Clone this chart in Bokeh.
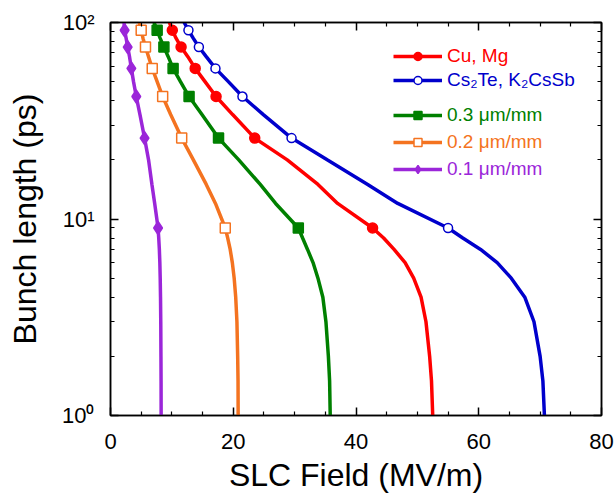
from bokeh.plotting import figure
from bokeh.models import FixedTicker, LinearAxis, LogAxis, Legend, LegendItem
from bokeh.embed import file_html
from bokeh.resources import INLINE

# ---------------- data ----------------
bunch_length = [1, 1.5, 2, 3, 4, 5, 6, 7, 8, 9, 12, 15, 20, 25.8, 34, 42, 50, 58.4, 67, 75, 83, 91.3, 100]

field_cu_mg = [52.5, 52.3, 52.0, 51.4, 50.6, 49.4, 48.0, 46.2, 44.5, 42.7, 37.0, 33.8, 28.8, 23.5, 19.9, 17.2, 15.4, 13.8, 12.6, 11.5, 10.7, 10.07, 9.6]
field_cs2te = [70.7, 70.45, 70.0, 69.0, 67.5, 65.3, 63.0, 60.3, 57.4, 55.0, 46.8, 41.9, 35.3, 29.5, 24.9, 21.5, 19.2, 17.1, 15.6, 14.4, 13.5, 12.7, 12.0]
field_03 = [35.8, 35.7, 35.5, 35.1, 34.6, 33.8, 33.0, 32.1, 31.3, 30.6, 26.9, 24.4, 20.9, 17.6, 14.9, 12.8, 11.4, 10.2, 9.4, 8.7, 8.1, 7.6, 7.1]
field_02 = [20.8, 20.78, 20.72, 20.6, 20.4, 20.15, 19.85, 19.5, 19.1, 18.7, 17.1, 15.6, 13.5, 11.6, 9.8, 8.5, 7.6, 6.8, 6.2, 5.7, 5.3, 5.0, 4.7]
field_01 = [8.25, 8.24, 8.22, 8.19, 8.15, 8.1, 8.04, 7.96, 7.86, 7.75, 7.2, 6.75, 6.2, 5.55, 4.8, 4.2, 3.75, 3.4, 3.1, 2.8, 2.55, 2.3, 2.2]

marker_index = [9, 13, 15, 17, 19, 21]

labels = ["Cu, Mg", "Cs\u2082Te, K\u2082CsSb", "0.3 \u03bcm/mm", "0.2 \u03bcm/mm", "0.1 \u03bcm/mm"]

x_major = [0, 20, 40, 60, 80]
x_minor = [5, 10, 15, 25, 30, 35, 45, 50, 55, 65, 70, 75]
y_major = [1, 10, 100]
y_minor = [2, 3, 4, 5, 6, 7, 8, 9, 20, 30, 40, 50, 60, 70, 80, 90]
y_tick_labels = {1: "10\u2070", 10: "10\u00b9", 100: "10\u00b2"}

# ---------------- styles ----------------
styles = [
    dict(field=field_cu_mg, color="#FF0000", marker="circle", size=10, fill="#FF0000", row=57),
    dict(field=field_cs2te, color="#0000CC", marker="circle", size=9, fill="white", row=81),
    dict(field=field_03, color="#008000", marker="square", size=10, fill="#008000", row=116),
    dict(field=field_02, color="#F47320", marker="square", size=10, fill="white", row=143),
    dict(field=field_01, color="#9B26D9", marker="diamond", size=13, fill="#9B26D9", row=170),
]

FONT = "Liberation Sans"
FRAME_LEFT, FRAME_TOP, FRAME_BOTTOM = 110, 22, 415

p = figure(width=614, height=495, x_range=(0, 80), y_range=(1, 100),
           y_axis_type="log", output_backend="svg", toolbar_location=None,
           min_border_left=FRAME_LEFT, min_border_right=13,
           min_border_top=FRAME_TOP, min_border_bottom=495 - FRAME_BOTTOM)
p.grid.visible = False
p.outline_line_color = "black"
p.outline_line_width = 1.5
p.background_fill_color = "white"
p.border_fill_color = "white"


def style_axis(ax):
    ax.axis_line_color = "black"
    ax.axis_line_width = 1.5
    ax.major_tick_line_color = "black"
    ax.minor_tick_line_color = "black"
    ax.major_tick_line_width = 1.5
    ax.minor_tick_line_width = 1.2
    ax.major_tick_in = 8
    ax.major_tick_out = 0
    ax.minor_tick_in = 4
    ax.minor_tick_out = 0
    ax.major_label_text_font = FONT
    ax.major_label_text_color = "black"
    ax.axis_label_text_font = FONT
    ax.axis_label_text_font_style = "normal"
    ax.axis_label_text_color = "black"


xa = p.xaxis[0]
xa.ticker = FixedTicker(ticks=x_major, minor_ticks=x_minor)
style_axis(xa)
xa.major_label_text_font_size = "22px"
xa.major_label_standoff = 18
xa.axis_label = "SLC Field (MV/m)"
xa.axis_label_text_font_size = "32px"
xa.axis_label_standoff = 5

ya = p.yaxis[0]
ya.ticker = FixedTicker(ticks=y_major, minor_ticks=y_minor)
ya.major_label_overrides = y_tick_labels
style_axis(ya)
ya.major_label_text_font_size = "22px"
ya.major_label_standoff = 16
ya.axis_label = "Bunch length (ps)"
ya.axis_label_text_font_size = "32px"
ya.axis_label_standoff = 16

top = LinearAxis(ticker=FixedTicker(ticks=x_major, minor_ticks=x_minor),
                 major_label_overrides={v: "" for v in x_major})
style_axis(top)
top.major_label_standoff = 0
top.major_label_text_font_size = "1px"
p.add_layout(top, "above")

right = LogAxis(ticker=FixedTicker(ticks=y_major, minor_ticks=y_minor),
                major_label_overrides={v: "" for v in y_major})
style_axis(right)
right.major_label_standoff = 0
right.major_label_text_font_size = "1px"
p.add_layout(right, "right")

for s, lab in zip(styles, labels):
    ln = p.line(s["field"], bunch_length, line_color=s["color"], line_width=3.5)
    mx = [s["field"][i] for i in marker_index]
    my = [bunch_length[i] for i in marker_index]
    sc = p.scatter(mx, my, marker=s["marker"], size=s["size"],
                   fill_color=s["fill"], line_color=s["color"], line_width=1.5)
    leg = Legend(items=[LegendItem(label=lab, renderers=[ln, sc])],
                 location=(393 - FRAME_LEFT, FRAME_BOTTOM - (s["row"] + 10)),
                 label_text_color=s["color"], label_text_font=FONT,
                 label_text_font_size="19px", glyph_width=49, glyph_height=20,
                 label_height=20, label_standoff=5, padding=0, margin=0,
                 spacing=0, border_line_color=None, background_fill_alpha=0)
    p.add_layout(leg)

open("out.html", "w").write(file_html(p, INLINE))
